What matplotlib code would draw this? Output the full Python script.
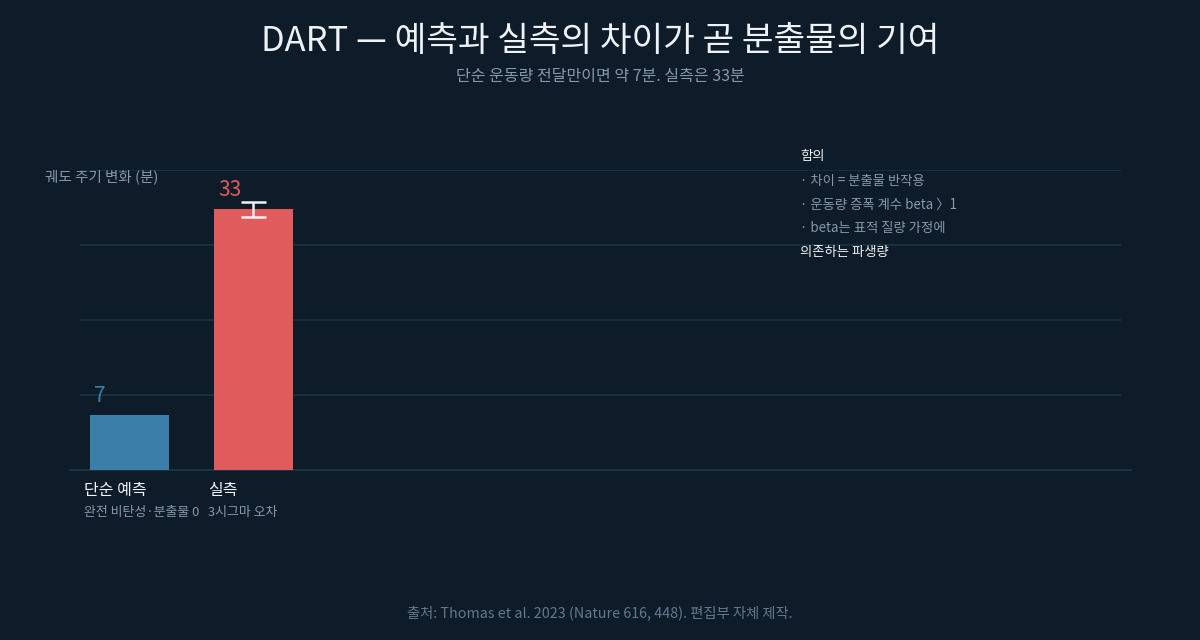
import matplotlib
matplotlib.use("Agg")
import matplotlib.pyplot as plt
import numpy as np

plt.rcParams['font.family'] = ['Noto Sans CJK KR', 'DejaVu Sans']

# ---- data ----
categories = ["단순 예측", "실측"]
sublabels = ["완전 비탄성·분출물 0", "3시그마 오차"]
values = [7, 33]
errors = [0, 1]
bar_colors = ["#3b7eaa", "#e05c5c"]
label_colors = ["#3b7eaa", "#e05c5c"]
notes = ["함의", "· 차이 = 분출물 반작용", "· 운동량 증폭 계수 beta 〉1",
         "· beta는 표적 질량 가정에", "의존하는 파생량"]
title = "DART — 예측과 실측의 차이가 곧 분출물의 기여"
subtitle = "단순 운동량 전달만이면 약 7분. 실측은 33분"
ylabel = "궤도 주기 변화 (분)"
source = "출처: Thomas et al. 2023 (Nature 616, 448). 편집부 자체 제작."

BG = "#0e1b29"
GRID = "#1b3344"
GRAY = "#8898a8"
WHITE = "#eef2f5"

W, H = 1200, 640
fig = plt.figure(figsize=(12, 6.4), dpi=100, facecolor=BG)
ax = fig.add_axes([80 / W, 1 - 470 / H, (1121 - 80) / W, 300 / H], facecolor=BG)

x = np.arange(len(values))
width = 0.64
ymax = 38
ax.set_xlim(-0.4, 8.0)
ax.set_ylim(0, ymax)
ax.set_yticks(np.linspace(0, ymax, 5)[1:])
ax.yaxis.grid(True, color=GRID, linewidth=1.2)
ax.set_axisbelow(True)
ax.tick_params(left=False, bottom=False, labelleft=False, labelbottom=False)
for s in ax.spines.values():
    s.set_visible(False)

# baseline extending slightly beyond axes
ax.plot([-0.4 - 10 / 124, 8.0 + 10 / 124], [0, 0], color=GRID, lw=1.5, clip_on=False, zorder=1)

ax.bar(x, values, width=width, color=bar_colors, zorder=2)
for i in range(len(values)):
    if errors[i]:
        ax.errorbar(x[i], values[i], yerr=errors[i], fmt='none', ecolor=WHITE,
                    elinewidth=1.8, capsize=9, capthick=1.8, zorder=3)
    ax.annotate(str(values[i]), xy=(x[i] - width / 2, values[i]), xytext=(3, 9.5),
                textcoords='offset points', ha='left', va='baseline',
                color=label_colors[i], fontsize=15)
    ax.annotate(categories[i], xy=(x[i] - width / 2, 0), xytext=(-4, -14.6),
                textcoords='offset points', ha='left', va='center',
                color=WHITE, fontsize=11.5)
    ax.annotate(sublabels[i], xy=(x[i] - width / 2, 0), xytext=(-4, -30.5),
                textcoords='offset points', ha='left', va='center',
                color=GRAY, fontsize=9.3)

fig.text(600 / W, 1 - 41 / H, title, ha='center', va='center', color=WHITE, fontsize=24.8)
fig.text(600 / W, 1 - 77 / H, subtitle, ha='center', va='center', color=GRAY, fontsize=11.5)
fig.text(45 / W, 1 - 177 / H, ylabel, ha='left', va='center', color=GRAY, fontsize=10.5)

note_y = [156, 181, 205, 228, 252]
for i, (t, yy) in enumerate(zip(notes, note_y)):
    c = WHITE if i in (0, len(notes) - 1) else GRAY
    fig.text(800 / W, 1 - yy / H, t, ha='left', va='center', color=c, fontsize=9.6)

fig.text(600 / W, 1 - 613 / H, source, ha='center', va='center', color="#66788a", fontsize=10.3)

fig.savefig("out.png", dpi=100, facecolor=BG)
